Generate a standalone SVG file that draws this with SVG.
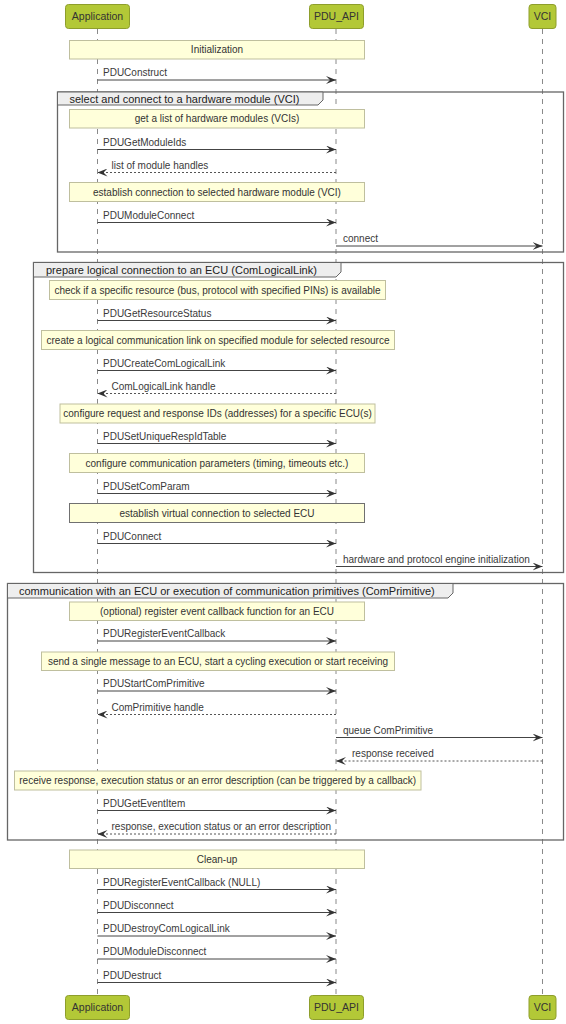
<svg xmlns="http://www.w3.org/2000/svg" width="566" height="1024" viewBox="0 0 566 1024">
<style>
text{font-family:"Liberation Sans",Arial,sans-serif;}
.bg{fill:#ffffff;}
.life{stroke:#8a8a8a;stroke-width:1;stroke-dasharray:5,5;fill:none;}
.part rect{fill:#B3C837;stroke:#8E9E2C;stroke-width:1;}
.part text{font-size:10.5px;fill:#333333;text-anchor:middle;}
.note rect{fill:#FFFFDA;stroke:#BFBF9E;stroke-width:1;}
.note.dark rect{stroke:#707070;}
.note text{font-size:10px;fill:#333333;text-anchor:middle;}
.frame .box{fill:none;stroke:#666666;stroke-width:1.3;}
.frame .tab{fill:#EEEEEE;stroke:#666666;stroke-width:1;}
.frame text{font-size:11px;fill:#222222;}
.msg{stroke:#444444;stroke-width:1;fill:none;}
.ret{stroke:#555555;stroke-width:1;stroke-dasharray:2,2;fill:none;}
.lbl{font-size:10px;fill:#3a3a3a;}
</style>
<defs>
<marker id="ah" markerUnits="userSpaceOnUse" markerWidth="10" markerHeight="8" refX="10" refY="4" orient="auto">
<path d="M0,0 L10,4 L0,8 L4,4 Z" fill="#333333"/>
</marker>
</defs>
<rect class="bg" x="0" y="0" width="566" height="1024"/>

<g id="lifelines">
<line class="life" x1="97.5" y1="29" x2="97.5" y2="995"/>
<line class="life" x1="336" y1="29" x2="336" y2="995"/>
<line class="life" x1="542.5" y1="29" x2="542.5" y2="995"/>
</g>

<g id="frame-select" class="frame">
<rect class="box" x="57.5" y="92" width="506" height="160"/>
<path class="tab" d="M57.5,92 V105 H318 L323,100 V92 Z"/>
<text x="69.5" y="102.8">select and connect to a hardware module (VCI)</text>
</g>
<g id="frame-prepare" class="frame">
<rect class="box" x="33.5" y="262.5" width="530" height="310"/>
<path class="tab" d="M33.5,262.5 V277 H336 L341,272 V262.5 Z"/>
<text x="46" y="273.8">prepare logical connection to an ECU (ComLogicalLink)</text>
</g>
<g id="frame-comm" class="frame">
<rect class="box" x="7.5" y="583.5" width="556" height="256.5"/>
<path class="tab" d="M7.5,583.5 V598 H448 L453,593 V583.5 Z"/>
<text x="19" y="594.8">communication with an ECU or execution of communication primitives (ComPrimitive)</text>
</g>

<g id="p-app-top" class="part"><rect x="65.5" y="4.5" width="64" height="24" rx="3"/><text x="97.5" y="20">Application</text></g>
<g id="p-pdu-top" class="part"><rect x="309.5" y="4.5" width="54" height="24" rx="3"/><text x="336.5" y="20">PDU_API</text></g>
<g id="p-vci-top" class="part"><rect x="529" y="4.5" width="27" height="24" rx="3"/><text x="542.5" y="20">VCI</text></g>
<g id="p-app-bot" class="part"><rect x="65.5" y="995.5" width="64" height="24" rx="3"/><text x="97.5" y="1011">Application</text></g>
<g id="p-pdu-bot" class="part"><rect x="309.5" y="995.5" width="54" height="24" rx="3"/><text x="336.5" y="1011">PDU_API</text></g>
<g id="p-vci-bot" class="part"><rect x="529" y="995.5" width="27" height="24" rx="3"/><text x="542.5" y="1011">VCI</text></g>

<g id="n-init" class="note"><rect x="69.5" y="40.5" width="295" height="18.5"/><text x="217" y="53.3">Initialization</text></g>
<g id="n-list" class="note"><rect x="69.5" y="109.5" width="295" height="18.5"/><text x="217" y="122.3">get a list of hardware modules (VCIs)</text></g>
<g id="n-estab" class="note"><rect x="69.5" y="182.5" width="295" height="19"/><text x="217" y="195.6">establish connection to selected hardware module (VCI)</text></g>
<g id="n-check" class="note"><rect x="49.5" y="280.5" width="336" height="19"/><text x="217.5" y="293.6">check if a specific resource (bus, protocol with specified PINs) is available</text></g>
<g id="n-create" class="note"><rect x="41.5" y="330.5" width="353" height="19"/><text x="218" y="343.6">create a logical communication link on specified module for selected resource</text></g>
<g id="n-confreq" class="note"><rect x="60" y="404" width="315" height="19"/><text x="217.5" y="417">configure request and response IDs (addresses) for a specific ECU(s)</text></g>
<g id="n-confcomm" class="note"><rect x="69.5" y="453.5" width="295" height="19"/><text x="217" y="466.6">configure communication parameters (timing, timeouts etc.)</text></g>
<g id="n-virt" class="note dark"><rect x="69.5" y="503.5" width="295" height="19"/><text x="217" y="516.6">establish virtual connection to selected ECU</text></g>
<g id="n-opt" class="note"><rect x="69.5" y="602" width="295" height="18.5"/><text x="217" y="614.8">(optional) register event callback function for an ECU</text></g>
<g id="n-send" class="note"><rect x="41.5" y="652" width="353" height="18.5"/><text x="218" y="664.8">send a single message to an ECU, start a cycling execution or start receiving</text></g>
<g id="n-recv" class="note"><rect x="14.5" y="771" width="406.5" height="19"/><text x="217.7" y="784">receive response, execution status or an error description (can be triggered by a callback)</text></g>
<g id="n-clean" class="note"><rect x="69.5" y="850" width="295" height="18.5"/><text x="217" y="862.8">Clean-up</text></g>

<g id="connectors">
<line class="msg" x1="97.5" y1="80" x2="336" y2="80" marker-end="url(#ah)"/>
<text class="lbl" x="103" y="76.2">PDUConstruct</text>
<line class="msg" x1="97.5" y1="149.5" x2="336" y2="149.5" marker-end="url(#ah)"/>
<text class="lbl" x="103" y="145.7">PDUGetModuleIds</text>
<line class="ret" x1="336" y1="172.5" x2="97.5" y2="172.5" marker-end="url(#ah)"/>
<text class="lbl" x="111.5" y="168.7">list of module handles</text>
<line class="msg" x1="97.5" y1="222.5" x2="336" y2="222.5" marker-end="url(#ah)"/>
<text class="lbl" x="103" y="218.7">PDUModuleConnect</text>
<line class="msg" x1="336" y1="246" x2="542.5" y2="246" marker-end="url(#ah)"/>
<text class="lbl" x="343" y="242.2">connect</text>

<line class="msg" x1="97.5" y1="320.5" x2="336" y2="320.5" marker-end="url(#ah)"/>
<text class="lbl" x="103" y="316.7">PDUGetResourceStatus</text>
<line class="msg" x1="97.5" y1="370.5" x2="336" y2="370.5" marker-end="url(#ah)"/>
<text class="lbl" x="103" y="366.7">PDUCreateComLogicalLink</text>
<line class="ret" x1="336" y1="393.5" x2="97.5" y2="393.5" marker-end="url(#ah)"/>
<text class="lbl" x="111.5" y="389.7">ComLogicalLink handle</text>
<line class="msg" x1="97.5" y1="443.5" x2="336" y2="443.5" marker-end="url(#ah)"/>
<text class="lbl" x="103" y="439.7">PDUSetUniqueRespIdTable</text>
<line class="msg" x1="97.5" y1="493.5" x2="336" y2="493.5" marker-end="url(#ah)"/>
<text class="lbl" x="103" y="489.7">PDUSetComParam</text>
<line class="msg" x1="97.5" y1="543.5" x2="336" y2="543.5" marker-end="url(#ah)"/>
<text class="lbl" x="103" y="539.7">PDUConnect</text>
<line class="msg" x1="336" y1="566.5" x2="542.5" y2="566.5" marker-end="url(#ah)"/>
<text class="lbl" x="343" y="562.7">hardware and protocol engine initialization</text>

<line class="msg" x1="97.5" y1="641" x2="336" y2="641" marker-end="url(#ah)"/>
<text class="lbl" x="103" y="637.2">PDURegisterEventCallback</text>
<line class="msg" x1="97.5" y1="691" x2="336" y2="691" marker-end="url(#ah)"/>
<text class="lbl" x="103" y="687.2">PDUStartComPrimitive</text>
<line class="ret" x1="336" y1="714.5" x2="97.5" y2="714.5" marker-end="url(#ah)"/>
<text class="lbl" x="111.5" y="710.7">ComPrimitive handle</text>
<line class="msg" x1="336" y1="737.5" x2="542.5" y2="737.5" marker-end="url(#ah)"/>
<text class="lbl" x="343" y="733.7">queue ComPrimitive</text>
<line class="ret" x1="542.5" y1="761" x2="336" y2="761" marker-end="url(#ah)"/>
<text class="lbl" x="352" y="757.2">response received</text>
<line class="msg" x1="97.5" y1="810.5" x2="336" y2="810.5" marker-end="url(#ah)"/>
<text class="lbl" x="103" y="806.7">PDUGetEventItem</text>
<line class="ret" x1="336" y1="834" x2="97.5" y2="834" marker-end="url(#ah)"/>
<text class="lbl" x="111.5" y="830.2">response, execution status or an error description</text>

<line class="msg" x1="97.5" y1="889.5" x2="336" y2="889.5" marker-end="url(#ah)"/>
<text class="lbl" x="103" y="885.7">PDURegisterEventCallback (NULL)</text>
<line class="msg" x1="97.5" y1="912.5" x2="336" y2="912.5" marker-end="url(#ah)"/>
<text class="lbl" x="103" y="908.7">PDUDisconnect</text>
<line class="msg" x1="97.5" y1="936" x2="336" y2="936" marker-end="url(#ah)"/>
<text class="lbl" x="103" y="932.2">PDUDestroyComLogicalLink</text>
<line class="msg" x1="97.5" y1="959" x2="336" y2="959" marker-end="url(#ah)"/>
<text class="lbl" x="103" y="955.2">PDUModuleDisconnect</text>
<line class="msg" x1="97.5" y1="982.5" x2="336" y2="982.5" marker-end="url(#ah)"/>
<text class="lbl" x="103" y="978.7">PDUDestruct</text>
</g>
</svg>
